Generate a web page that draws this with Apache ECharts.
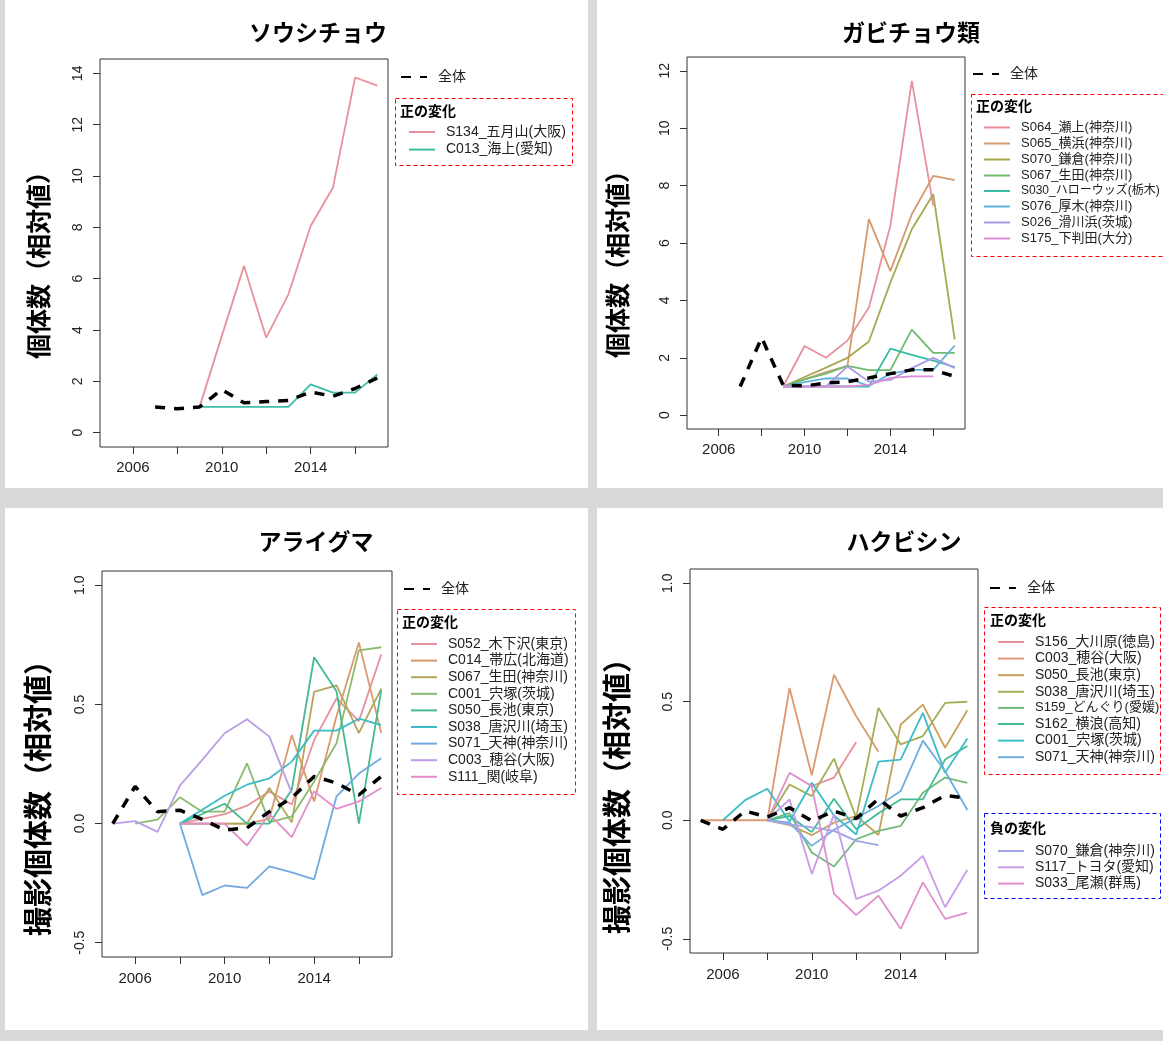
<!DOCTYPE html>
<html><head><meta charset="utf-8">
<script src="https://cdn.jsdelivr.net/npm/echarts@6/dist/echarts.min.js"></script>
<style>html,body{margin:0;padding:0;background:#fff}#c{width:1163px;height:1041px}</style>
</head><body><div id="c"></div><script>
// ---------- data ----------
const years = [2005,2006,2007,2008,2009,2010,2011,2012,2013,2014,2015,2016,2017];
const xTicks = [2006,2008,2010,2012,2014,2016];
const xLabels = [2006,2010,2014];
const yTicks1 = [0,2,4,6,8,10,12,14];
const yTicks2 = [0,2,4,6,8,10,12];
const yTicks3 = [-0.5,0,0.5,1.0];

const titles = ['ソウシチョウ','ガビチョウ類','アライグマ','ハクビシン'];
const yNames = ['個体数（相対値）','個体数（相対値）','撮影個体数（相対値）','撮影個体数（相対値）'];
const allName = '全体';
const posTitle = '正の変化';
const negTitle = '負の変化';

// Panel 1: ソウシチョウ
const p1All  = [null,null,1.0,0.93,1.0,1.68,1.16,1.21,1.25,1.58,1.42,1.72,2.13];
const p1Names = ['S134_五月山(大阪)','C013_海上(愛知)'];
const p1S134 = [null,null,null,null,1.0,3.76,6.49,3.70,5.39,8.05,9.54,13.84,13.52];
const p1C013 = [null,null,null,null,1.0,1.0,1.0,1.0,1.0,1.88,1.56,1.56,2.27];

// Panel 2: ガビチョウ類
const p2All  = [null,null,1.0,2.70,1.05,1.02,1.12,1.17,1.30,1.45,1.58,1.58,1.35];
const p2Names = ['S064_瀬上(神奈川)','S065_横浜(神奈川)','S070_鎌倉(神奈川)','S067_生田(神奈川)','S030_ハローウッズ(栃木)','S076_厚木(神奈川)','S026_滑川浜(茨城)','S175_下判田(大分)'];
const p2S064 = [null,null,null,null,1.0,2.41,2.0,2.6,3.75,6.6,11.65,7.3,null];
const p2S065 = [null,null,null,null,1.0,1.25,1.5,1.72,6.83,5.02,7.0,8.34,8.19];
const p2S070 = [null,null,null,null,1.0,1.33,1.66,2.0,2.57,4.62,6.48,7.7,2.64];
const p2S067 = [null,null,null,null,1.0,1.25,1.45,1.72,1.57,1.57,2.98,2.17,2.17];
const p2S030 = [null,null,null,null,1.0,1.0,1.0,1.0,1.0,2.32,2.1,1.9,1.68];
const p2S076 = [null,null,null,null,1.0,1.15,1.28,1.28,1.02,1.45,1.58,1.58,2.43];
const p2S026 = [null,null,null,null,1.0,1.0,1.0,1.7,1.17,1.23,1.64,2.0,1.64];
const p2S175 = [null,null,null,null,1.0,1.0,1.0,1.0,1.06,1.3,1.35,1.35,null];

// Panel 3: アライグマ
const p3All  = [0,0.156,0.05,0.056,0.018,-0.027,-0.018,0.05,0.108,0.198,0.17,0.12,0.198];
const p3Names = ['S052_木下沢(東京)','C014_帯広(北海道)','S067_生田(神奈川)','C001_宍塚(茨城)','S050_長池(東京)','S038_唐沢川(埼玉)','S071_天神(神奈川)','C003_穂谷(大阪)','S111_関(岐阜)'];
const p3S052 = [null,null,null,0,0.02,0.04,0.075,0.135,0.08,0.35,0.525,0.43,0.71];
const p3C014 = [null,null,null,0,0,0,0,0.02,0.372,0.093,0.45,0.76,0.38];
const p3S067 = [null,null,null,0,0,0,0,0.149,0.005,0.553,0.58,0.38,0.566];
const p3C001 = [null,0,0.017,0.11,0.05,0.05,0.253,0.005,0.03,0.177,0.337,0.727,0.74];
const p3S050 = [null,null,null,0,0.04,0.083,0,0,0.142,0.698,0.555,0,0.56];
const p3S038 = [null,null,null,0,0.058,0.117,0.163,0.19,0.26,0.39,0.39,0.44,0.413];
const p3S071 = [null,null,null,0,-0.30,-0.26,-0.27,-0.18,-0.205,-0.234,0.114,0.21,0.274];
const p3C003 = [0,0.01,-0.035,0.159,0.267,0.379,0.438,0.365,0.128,null,null,null,null];
const p3S111 = [null,null,null,0,0,0,-0.092,0.04,-0.057,0.135,0.062,0.093,0.149];

// Panel 4: ハクビシン
const p4All  = [0,-0.038,0.039,0.014,0.053,-0.003,0.039,0.007,0.09,0.018,0.053,0.105,0.093];
const p4PosNames = ['S156_大川原(徳島)','C003_穂谷(大阪)','S050_長池(東京)','S038_唐沢川(埼玉)','S159_どんぐり(愛媛)','S162_横浪(高知)','C001_宍塚(茨城)','S071_天神(神奈川)'];
const p4NegNames = ['S070_鎌倉(神奈川)','S117_トヨタ(愛知)','S033_尾瀬(群馬)'];
const p4S156 = [null,null,null,null,null,0.144,0.18,0.33,null,null,null,null,null];
const p4C003 = [0,0,0,0,0.558,0.19,0.614,0.439,0.289,null,null,null,null];
const p4S050 = [null,null,null,0,-0.02,-0.063,-0.01,0.018,-0.062,0.404,0.488,0.306,0.464];
const p4S038 = [null,null,null,0,0.151,0.102,0.26,0.011,0.474,0.32,0.355,0.495,0.5];
const p4S159 = [null,null,null,0,0.03,-0.136,-0.195,-0.08,-0.045,-0.024,0.116,0.18,0.158];
const p4S162 = [null,null,null,0,0.018,-0.05,0.091,-0.038,0.03,0.088,0.088,0.256,0.313];
const p4C001 = [null,0,0.085,0.133,-0.005,0.158,0.02,-0.06,0.247,0.256,0.453,0.2,0.345];
const p4S071 = [null,null,null,0,-0.01,-0.108,-0.04,0.01,0.06,0.123,0.336,0.207,0.043];
const p4S070 = [null,null,null,0,-0.017,-0.03,-0.045,-0.087,-0.105,null,null,null,null];
const p4S117 = [null,null,null,0,0.088,-0.227,0.025,-0.332,-0.297,-0.234,-0.15,-0.367,-0.209];
const p4S033 = [null,null,null,0,0.2,0.144,-0.31,-0.40,-0.318,-0.458,-0.262,-0.416,-0.39];

// ---------- styles ----------
const c1 = ['#E8909C','#3DBDA8'];
const c2 = ['#E8909C','#D49A6E','#A9A853','#6FBB6F','#39BCA6','#5EB4DC','#A99BE6','#D98FD6'];
const c3 = ['#E8909C','#D99A70','#B3A65C','#8CBA6C','#45BA90','#3BBCC6','#72A9E0','#BB9DE6','#E18ECB'];
const c4p = ['#E8909C','#DB9A72','#C6A25C','#A2AE58','#70BA78','#42BA96','#3CBCC8','#6EAEDF'];
const c4n = ['#9FA3E8','#C99CE6','#E18ECB'];

const FF = "'Liberation Sans','Noto Sans CJK JP',sans-serif";
const FJ = "'Noto Sans CJK JP',sans-serif";

const grids = [
  {left:100, top:59, width:288, height:388},
  {left:687, top:57, width:278, height:372},
  {left:102, top:571, width:290, height:386},
  {left:690, top:569, width:288, height:384}
];
const yRanges = [[-0.56,14.56],[-0.48,12.48],[-0.56,1.06],[-0.56,1.06]];
const yTickSets = [yTicks1,yTicks2,yTicks3,yTicks3];

function pts(arr){ const o=[]; arr.forEach((v,i)=>{ if(v!==null) o.push([years[i],v]); }); return o; }
function ser(name, arr, color, gi){
  return {type:'line', name:name+'|'+gi, xAxisIndex:gi, yAxisIndex:gi, data:pts(arr), symbol:'none', silent:true,
    animation:false, lineStyle:{color, width:1.8}, itemStyle:{color}, z:2};
}
function serAll(arr, gi){
  return {type:'line', name:allName+'|'+gi, xAxisIndex:gi, yAxisIndex:gi, data:pts(arr), symbol:'none', silent:true,
    animation:false, lineStyle:{color:'#000', width:3.5, type:[10,9]}, itemStyle:{color:'#000'}, z:5};
}
const series = [
  serAll(p1All,0), ser(p1Names[0],p1S134,c1[0],0), ser(p1Names[1],p1C013,c1[1],0),
  serAll(p2All,1),
  ...[p2S064,p2S065,p2S070,p2S067,p2S030,p2S076,p2S026,p2S175].map((a,i)=>ser(p2Names[i],a,c2[i],1)),
  serAll(p3All,2),
  ...[p3S052,p3C014,p3S067,p3C001,p3S050,p3S038,p3S071,p3C003,p3S111].map((a,i)=>ser(p3Names[i],a,c3[i],2)),
  serAll(p4All,3),
  ...[p4S156,p4C003,p4S050,p4S038,p4S159,p4S162,p4C001,p4S071].map((a,i)=>ser(p4PosNames[i],a,c4p[i],3)),
  ...[p4S070,p4S117,p4S033].map((a,i)=>ser(p4NegNames[i],a,c4n[i],3))
];

// long entries that the original squeezes into the box
const narrowFont = {'S030_ハローウッズ(栃木)':12, 'S159_どんぐり(愛媛)':13};
function leg(names, gi, left, top, spacing, fs){
  return {show:true, orient:'vertical', left, top, padding:0, itemWidth:26, itemHeight:14, itemGap:spacing-14,
    data:names.map(n=> narrowFont[n] ? {name:n+'|'+gi, textStyle:{fontSize:narrowFont[n]}} : n+'|'+gi),
    formatter:n=>n.split('|')[0], selectedMode:false,
    itemStyle:{opacity:0},
    textStyle:{fontSize:fs||14, color:'#222', fontFamily:FF, padding:[0,0,0,6]}};
}
const legends = [
  leg([allName],0,400,70,17), leg(p1Names,0,408,125,17.6),
  leg([allName],1,972,67,17), leg(p2Names,1,983,121,17,13),
  leg([allName],2,403,582,17), leg(p3Names,2,410,637,16.6),
  leg([allName],3,989,581,17), leg(p4PosNames,3,997,635,16.6), leg(p4NegNames,3,997,844,16.3)
];

function yName(i, x, y, fs){
  return {type:'text', x, y, rotation:Math.PI/2,
    style:{text:yNames[i], font:"bold "+fs+"px "+FJ, fill:'#000', textAlign:'center', textVerticalAlign:'middle'}};
}

const option = {
  backgroundColor:'#ffffff',
  animation:false,
  grid: grids.map(g=>Object.assign({show:true, borderColor:'#333', borderWidth:1, backgroundColor:'transparent', containLabel:false, outerBoundsMode:'none'}, g)),
  xAxis: grids.map((g,i)=>({type:'value', gridIndex:i, min:2004.52, max:2017.48,
    axisLine:{show:false, onZero:false}, splitLine:{show:false},
    axisTick:{show:true, length:7, lineStyle:{color:'#333'}, customValues:xTicks},
    axisLabel:{show:true, margin: i<2?13:14, fontSize:15, color:'#222', fontFamily:FF, customValues:xLabels, formatter:v=>String(Math.round(v))}})),
  yAxis: grids.map((g,i)=>({type:'value', gridIndex:i, min:yRanges[i][0], max:yRanges[i][1],
    axisLine:{show:false, onZero:false}, splitLine:{show:false},
    axisTick:{show:true, length:7, lineStyle:{color:'#333'}, customValues:yTickSets[i]},
    axisLabel:{show:true, rotate:90, margin:15, fontSize:14, color:'#222', fontFamily:FF, customValues:yTickSets[i],
      formatter:v=> i<2 ? String(Math.round(v)) : v.toFixed(1)}})),
  legend: legends,
  series,
  graphic: [
    {type:'rect', shape:{x:0,y:0,width:5,height:1041}, style:{fill:'#d9d9d9'}, silent:true},
    {type:'rect', shape:{x:588,y:0,width:9,height:1041}, style:{fill:'#d9d9d9'}, silent:true},
    {type:'rect', shape:{x:0,y:488,width:1163,height:20}, style:{fill:'#d9d9d9'}, silent:true},
    {type:'rect', shape:{x:0,y:1030,width:1163,height:11}, style:{fill:'#d9d9d9'}, silent:true},
    {type:'text', x:318, y:32, style:{text:titles[0], font:"bold 23px "+FJ, fill:'#000', textAlign:'center', textVerticalAlign:'middle'}},
    {type:'text', x:911, y:32, style:{text:titles[1], font:"bold 23px "+FJ, fill:'#000', textAlign:'center', textVerticalAlign:'middle'}},
    {type:'text', x:316, y:541, style:{text:titles[2], font:"bold 23px "+FJ, fill:'#000', textAlign:'center', textVerticalAlign:'middle'}},
    {type:'text', x:904, y:541, style:{text:titles[3], font:"bold 23px "+FJ, fill:'#000', textAlign:'center', textVerticalAlign:'middle'}},
    yName(0, 38, 259, 25), yName(1, 617, 258, 25), yName(2, 38, 791, 29), yName(3, 617, 789, 29),
    {type:'rect', shape:{x:395.5,y:98.5,width:177,height:67}, style:{fill:'none', stroke:'#ff0000', lineWidth:1, lineDash:[4,3]}, z:10},
    {type:'text', x:400, y:111, style:{text:posTitle, font:"bold 14px "+FJ, fill:'#000', textVerticalAlign:'middle'}},
    {type:'rect', shape:{x:971.5,y:94.5,width:200,height:162}, style:{fill:'none', stroke:'#ff0000', lineWidth:1, lineDash:[4,3]}, z:10},
    {type:'text', x:976, y:106, style:{text:posTitle, font:"bold 14px "+FJ, fill:'#000', textVerticalAlign:'middle'}},
    {type:'rect', shape:{x:397.5,y:609.5,width:178,height:185}, style:{fill:'none', stroke:'#ff0000', lineWidth:1, lineDash:[4,3]}, z:10},
    {type:'text', x:402, y:622, style:{text:posTitle, font:"bold 14px "+FJ, fill:'#000', textVerticalAlign:'middle'}},
    {type:'rect', shape:{x:984.5,y:607.5,width:176,height:167}, style:{fill:'none', stroke:'#ff0000', lineWidth:1, lineDash:[4,3]}, z:10},
    {type:'text', x:990, y:620, style:{text:posTitle, font:"bold 14px "+FJ, fill:'#000', textVerticalAlign:'middle'}},
    {type:'rect', shape:{x:984.5,y:813.5,width:176,height:85}, style:{fill:'none', stroke:'#0000ff', lineWidth:1, lineDash:[4,3]}, z:10},
    {type:'text', x:990, y:828, style:{text:negTitle, font:"bold 14px "+FJ, fill:'#000', textVerticalAlign:'middle'}}
  ]
};
const chart = echarts.init(document.getElementById('c'), null, {renderer:'canvas'});
chart.setOption(option);
</script></body></html>
